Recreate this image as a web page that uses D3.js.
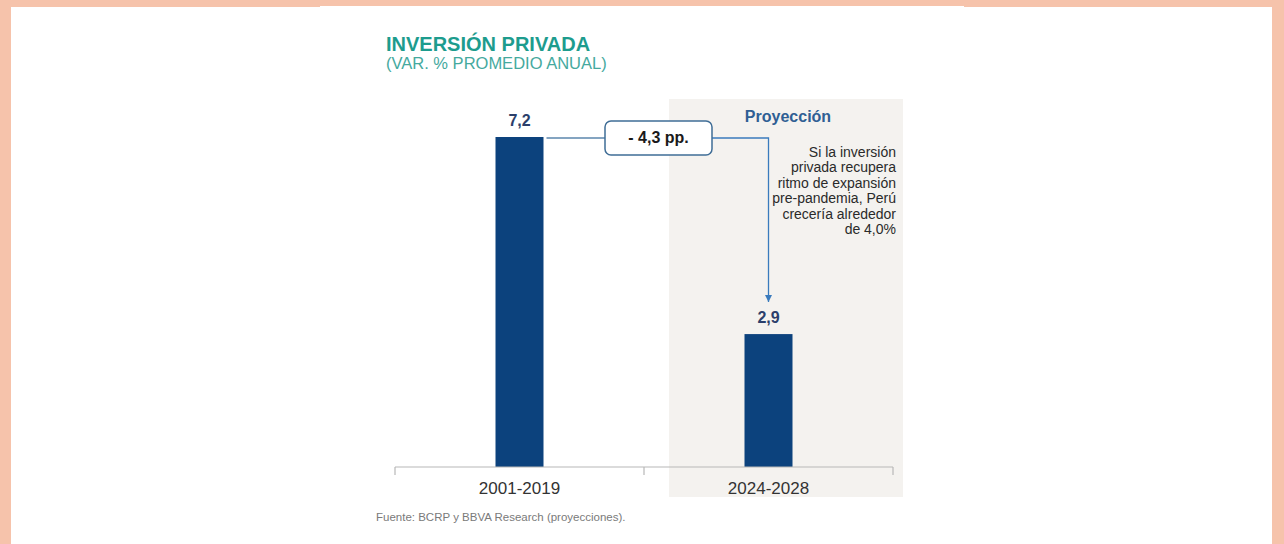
<!DOCTYPE html>
<html>
<head>
<meta charset="utf-8">
<script src="https://cdn.jsdelivr.net/npm/d3@7"></script>
<style>
  html, body { margin: 0; padding: 0; background: #f6c3ab; }
  svg { display: block; font-family: "Liberation Sans", Arial, sans-serif; }
</style>
</head>
<body>
<svg id="chart" width="1284" height="544"></svg>
<script>
// Private investment, average annual % change
const categories = ["2001-2019", "2024-2028"];
const values = [7.2, 2.9];
const valueLabels = ["7,2", "2,9"];
const gapLabel = "- 4,3 pp.";
const noteLines = [
  "Si la inversión",
  "privada recupera",
  "ritmo de expansión",
  "pre-pandemia, Perú",
  "crecería alrededor",
  "de 4,0%"
];

const svg = d3.select("#chart");

// page frame
svg.append("rect").attr("x", 11).attr("y", 7).attr("width", 1261).attr("height", 537).attr("fill", "#ffffff");
svg.append("rect").attr("x", 320).attr("y", 6).attr("width", 644).attr("height", 2).attr("fill", "#ffffff");

// scales
const x = d3.scalePoint().domain(categories).range([395, 893]).padding(0.5);
const y = d3.scaleLinear().domain([0, 7.2]).range([467, 137]);
const barW = 48;

// projection panel
svg.append("rect")
  .attr("x", 669).attr("y", 99).attr("width", 234).attr("height", 398)
  .attr("fill", "#f4f2ef");

// title
svg.append("text").attr("x", 386).attr("y", 51)
  .attr("font-size", 20).attr("font-weight", "bold").attr("fill", "#1d9c8e")
  .text("INVERSIÓN PRIVADA");
svg.append("text").attr("x", 386).attr("y", 69)
  .attr("font-size", 16.5).attr("fill", "#45a99e")
  .text("(VAR. % PROMEDIO ANUAL)");

// bars
svg.selectAll("rect.bar").data(values).join("rect")
  .attr("class", "bar")
  .attr("x", (d, i) => x(categories[i]) - barW / 2)
  .attr("y", d => y(d))
  .attr("width", barW)
  .attr("height", d => y(0) - y(d))
  .attr("fill", "#0c427d");

// value labels
svg.selectAll("text.val").data(values).join("text")
  .attr("class", "val")
  .attr("x", (d, i) => x(categories[i]))
  .attr("y", d => y(d) - 11)
  .attr("text-anchor", "middle")
  .attr("font-size", 16).attr("font-weight", "bold").attr("fill", "#2b3f6b")
  .text((d, i) => valueLabels[i]);

// x axis: baseline with a tick at each band edge
const step = x.step();
const edges = d3.range(categories.length + 1).map(i => 395 + i * step);
const gAxis = svg.append("g").attr("transform", `translate(0,${y(0)})`);
gAxis.append("line").attr("x1", edges[0]).attr("x2", edges[edges.length - 1]).attr("y1", 0).attr("y2", 0)
  .attr("stroke", "#b8b8b8").attr("stroke-width", 1.2);
gAxis.selectAll("line.edge").data(edges).join("line")
  .attr("class", "edge")
  .attr("x1", d => d).attr("x2", d => d).attr("y1", 0).attr("y2", 8)
  .attr("stroke", "#b8b8b8").attr("stroke-width", 1.2);

// category labels
svg.selectAll("text.cat").data(categories).join("text")
  .attr("class", "cat")
  .attr("x", d => x(d))
  .attr("y", 494)
  .attr("text-anchor", "middle")
  .attr("font-size", 17).attr("fill", "#333333")
  .text(d => d);

// gap connector with arrow
const defs = svg.append("defs");
defs.append("marker").attr("id", "arrowHead")
  .attr("viewBox", "0 0 10 10").attr("refX", 10).attr("refY", 5)
  .attr("markerWidth", 7).attr("markerHeight", 7).attr("markerUnits", "userSpaceOnUse")
  .attr("orient", "auto")
  .append("path").attr("d", "M0,0 L10,5 L0,10 Z").attr("fill", "#3a7bbd");

const lineY = y(values[0]) + 1;
const x0 = x(categories[0]) + barW / 2 + 3;
const x1 = x(categories[1]);
const boxX = 605, boxW = 107;

svg.append("line").attr("x1", x0).attr("x2", boxX).attr("y1", lineY).attr("y2", lineY)
  .attr("stroke", "#5b86ad").attr("stroke-width", 1.3);
svg.append("path")
  .attr("d", `M${boxX + boxW},${lineY} H${x1} V${y(values[1]) - 32}`)
  .attr("fill", "none").attr("stroke", "#3a7bbd").attr("stroke-width", 1.3)
  .attr("marker-end", "url(#arrowHead)");

svg.append("rect").attr("x", boxX).attr("y", 121).attr("width", boxW).attr("height", 34)
  .attr("rx", 6).attr("fill", "#ffffff").attr("stroke", "#3f6d96").attr("stroke-width", 1.5);
svg.append("text").attr("x", boxX + boxW / 2).attr("y", 143)
  .attr("text-anchor", "middle").attr("font-size", 16).attr("font-weight", "bold").attr("fill", "#1a1a1a")
  .text(gapLabel);

// projection heading and note
svg.append("text").attr("x", 788).attr("y", 122)
  .attr("text-anchor", "middle").attr("font-size", 16).attr("font-weight", "bold").attr("fill", "#2f5f94")
  .text("Proyección");

svg.append("g").selectAll("text").data(noteLines).join("text")
  .attr("x", 896)
  .attr("y", (d, i) => 157 + i * 15.4)
  .attr("text-anchor", "end")
  .attr("font-size", 14).attr("fill", "#2a2a2a")
  .text(d => d);

// source
svg.append("text").attr("x", 376).attr("y", 521)
  .attr("font-size", 11.5).attr("fill", "#7a7a7a")
  .text("Fuente: BCRP y BBVA Research (proyecciones).");
</script>
</body>
</html>
